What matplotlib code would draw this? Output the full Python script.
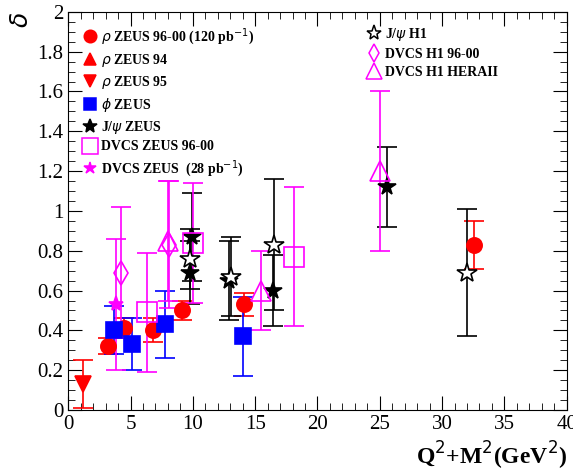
import matplotlib
matplotlib.use('Agg')
import matplotlib.pyplot as plt
from matplotlib.ticker import MultipleLocator
from matplotlib.lines import Line2D

plt.rcParams['font.family'] = ['Liberation Serif', 'DejaVu Serif']

rho_x = [3.2, 4.5, 6.8, 9.1, 14.1, 32.6]
rho_y = [0.32, 0.41, 0.40, 0.50, 0.53, 0.83]
rho_e = [0.04, 0.05, 0.06, 0.05, 0.06, 0.12]
rho95_x = [1.2]
rho95_y = [0.13]
rho95_e = [0.12]
phi_x = [3.7, 5.1, 7.8, 14.0]
phi_y = [0.40, 0.33, 0.43, 0.37]
phi_e = [0.12, 0.13, 0.17, 0.2]
jz_x = [9.9, 9.8, 12.9, 16.4, 25.6]
jz_y = [0.87, 0.69, 0.65, 0.60, 1.12]
jz_e = [0.22, 0.16, 0.2, 0.18, 0.2]
jh1_x = [9.8, 13.1, 16.5, 32.0]
jh1_y = [0.76, 0.67, 0.83, 0.69]
jh1_e = [0.15, 0.2, 0.33, 0.32]
dh1_x = [4.2, 8.1]
dh1_y = [0.69, 0.83]
dh1_e = [0.33, 0.32]
dh2_x = [8.0, 15.5, 25.0]
dh2_y = [0.85, 0.60, 1.20]
dh2_e = [0.3, 0.2, 0.4]
dz_x = [6.3, 10.0, 18.1]
dz_y = [0.49, 0.84, 0.77]
dz_e = [0.3, 0.3, 0.35]
dz28_x = [3.8]
dz28_y = [0.53]
dz28_e = [0.33]

fig = plt.figure(figsize=(5.73, 4.74), dpi=100)
ax = fig.add_axes([0.119, 0.135, 0.87, 0.84])

magenta = '#ff00ff'

def plot(x, y, e, color, marker, ms, face):
    ax.errorbar(x, y, yerr=e, fmt=marker, color=color, ms=ms, mfc=face,
                mec=color, mew=1.2, ecolor=color, elinewidth=1.2, capsize=7,
                capthick=1.2)

plot(rho_x, rho_y, rho_e, 'red', 'o', 11, 'red')
plot(rho95_x, rho95_y, rho95_e, 'red', 'v', 11, 'red')
plot(phi_x, phi_y, phi_e, 'blue', 's', 11, 'blue')
plot(jz_x, jz_y, jz_e, 'black', '*', 13, 'black')
plot(dz_x, dz_y, dz_e, magenta, 's', 14, 'none')
plot(dz28_x, dz28_y, dz28_e, magenta, '*', 11, magenta)
plot(jh1_x, jh1_y, jh1_e, 'black', '*', 15, 'white')
plot(dh1_x, dh1_y, dh1_e, magenta, 'd', 12, 'none')
plot(dh2_x, dh2_y, dh2_e, magenta, '^', 14, 'none')

def mk(marker, color, face, ms=9):
    return Line2D([], [], ls='none', marker=marker, color=color, mfc=face, mec=color, ms=ms, mew=1.1)

left = [
    (mk('o', 'red', 'red'), r'$\rho$ ZEUS 96-00 (120 pb$^{-1}$)'),
    (mk('^', 'red', 'red'), r'$\rho$ ZEUS 94'),
    (mk('v', 'red', 'red'), r'$\rho$ ZEUS 95'),
    (mk('s', 'blue', 'blue'), r'$\phi$ ZEUS'),
    (mk('*', 'black', 'black', 10), r'J/$\psi$ ZEUS'),
    (mk('s', magenta, 'none', 11), 'DVCS ZEUS 96-00'),
    (mk('*', magenta, magenta), 'DVCS ZEUS  (28 pb$^{-1}$)'),
]
right = [
    (mk('*', 'black', 'white', 11), r'J/$\psi$ H1'),
    (mk('d', magenta, 'none'), 'DVCS H1 96-00'),
    (mk('^', magenta, 'none', 11), 'DVCS H1 HERAII'),
]

ax.set_xlim(0, 40)
ax.set_ylim(0, 2)
ax.xaxis.set_major_locator(MultipleLocator(5))
ax.xaxis.set_minor_locator(MultipleLocator(1))
ax.yaxis.set_minor_locator(MultipleLocator(0.05))
ax.tick_params(which='both', direction='in', top=True, right=True, labelsize=15)
ax.tick_params(which='major', length=10)
ax.tick_params(which='minor', length=5)
ax.set_yticks([0, 0.2, 0.4, 0.6, 0.8, 1, 1.2, 1.4, 1.6, 1.8, 2])
ax.set_yticklabels(['0', '0.2', '0.4', '0.6', '0.8', '1', '1.2', '1.4', '1.6', '1.8', '2'])
fig.text(0.99, 0.005, r'Q$^2$+M$^2$(GeV$^2$)', fontsize=17, fontweight='bold', ha='right', va='bottom')
fig.text(0.02, 0.975, r'$\delta$', fontsize=18, rotation=90, ha='left', va='top')

prop = {'weight': 'bold', 'size': 10}
leg1 = ax.legend([a for a, b in left], [b for a, b in left], loc='upper left',
                 frameon=False, prop=prop, handletextpad=0.2, handlelength=1.2,
                 labelspacing=0.35, borderaxespad=0.2, bbox_to_anchor=(0.01, 0.985))
ax.add_artist(leg1)
ax.legend([a for a, b in right], [b for a, b in right], loc='upper left',
          bbox_to_anchor=(0.58, 0.985), frameon=False, prop=prop,
          handletextpad=0.2, handlelength=1.2, labelspacing=0.35, borderaxespad=0.2)

fig.savefig('out.png', dpi=100)
